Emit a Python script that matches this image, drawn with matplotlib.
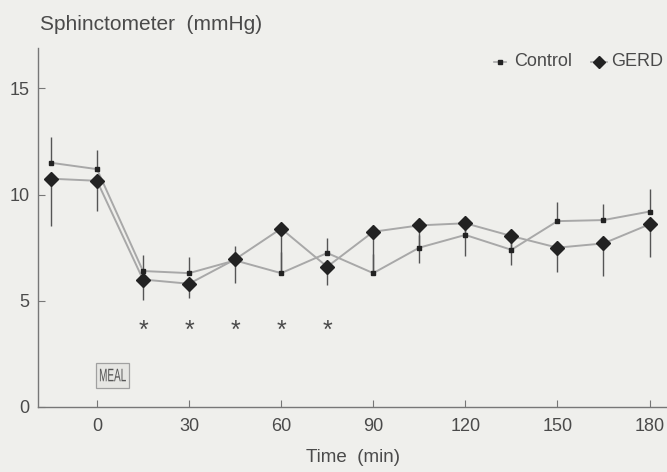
import matplotlib
matplotlib.use("Agg")
import matplotlib.pyplot as plt
import numpy as np
from matplotlib.textpath import TextPath
from matplotlib.patches import PathPatch, Rectangle
from matplotlib.font_manager import FontProperties
from matplotlib.lines import Line2D
import matplotlib.transforms as mtransforms

plt.rcParams['font.family'] = ['Liberation Sans', 'DejaVu Sans']

time = [-15, 0, 15, 30, 45, 60, 75, 90, 105, 120, 135, 150, 165, 180]
control = [11.5, 11.2, 6.4, 6.3, 6.9, 6.3, 7.25, 6.3, 7.5, 8.1, 7.4, 8.75, 8.8, 9.2]
control_err_up = [1.2, 0.9, 0.75, 0.75, 0.7, 1.0, 0.7, 0.9, 0.6, 0.5, 0.6, 0.9, 0.75, 1.05]
gerd = [10.75, 10.65, 6.0, 5.8, 6.95, 8.4, 6.6, 8.25, 8.55, 8.65, 8.05, 7.5, 7.7, 8.6]
gerd_err_down = [2.25, 1.4, 0.95, 0.65, 1.1, 2.1, 0.85, 1.95, 1.75, 1.55, 1.35, 1.15, 1.55, 1.55]
star_times = [15, 30, 45, 60, 75]
star_level = 3.6
meal_time = 5.2
meal_level = 1.5
xticks = [0, 30, 60, 90, 120, 150, 180]
yticks = [0, 5, 10, 15]

DPI = 100
bg = '#efefec'
txt = '#4a4a4a'
fig = plt.figure(figsize=(6.67, 4.72), dpi=DPI, facecolor=bg)
ax = fig.add_axes([0.057, 0.138, 0.943, 0.76], facecolor=bg)

line_col = '#a8a8a8'
mk_col = '#222222'
ax.errorbar(time, control, yerr=[np.zeros(len(control)), control_err_up],
            fmt='none', ecolor='#555555', elinewidth=1.0, capsize=0, zorder=2)
ax.errorbar(time, gerd, yerr=[gerd_err_down, np.zeros(len(gerd))],
            fmt='none', ecolor='#555555', elinewidth=1.0, capsize=0, zorder=2)
ax.plot(time, control, color=line_col, lw=1.4, zorder=3)
ax.plot(time, gerd, color=line_col, lw=1.4, zorder=3)
ax.plot(time, control, ls='none', marker='s', ms=3.4, color=mk_col, zorder=4)
ax.plot(time, gerd, ls='none', marker='D', ms=7.5, color=mk_col, zorder=5)

for t in star_times:
    ax.text(t, star_level, '*', ha='center', va='center', fontsize=18, color=txt)

ax.set_xlim(-19.2, 185.7)
ax.set_ylim(0, 16.9)

# condensed MEAL label in a box
px, py = ax.transData.transform((meal_time, meal_level))
tp = TextPath((0, 0), 'MEAL', size=10, prop=FontProperties(family='Liberation Sans'))
ext = tp.get_extents()
tw, th = 26.0, 12.5
tr = (mtransforms.Affine2D()
      .translate(-(ext.x0 + ext.x1) / 2, -(ext.y0 + ext.y1) / 2)
      .scale(tw / ext.width, th / ext.height)
      .translate(px, py))
ax.add_patch(PathPatch(tr.transform_path(tp), fc='#555555', ec='none',
                       transform=mtransforms.IdentityTransform(), zorder=6,
                       clip_on=False))
ax.add_patch(Rectangle((px - 16.5, py - 12.5), 33, 25, fc='#e6e6e3', ec='#a0a0a0',
                       lw=0.9, transform=mtransforms.IdentityTransform(), zorder=5,
                       clip_on=False))

ax.set_xticks(xticks)
ax.set_yticks(yticks)
for s in ['top', 'right']:
    ax.spines[s].set_visible(False)
for s in ['left', 'bottom']:
    ax.spines[s].set_color('#777777')
    ax.spines[s].set_linewidth(1.0)
ax.tick_params(direction='in', length=5, color='#777777', labelsize=13,
               labelcolor=txt)
ax.tick_params(axis='x', pad=8)
ax.tick_params(axis='y', pad=6)

ax.set_xlabel('Time  (min)', fontsize=13.5, color=txt, labelpad=10)
fig.text(0.06, 0.948, 'Sphinctometer  (mmHg)', fontsize=15, color=txt,
         ha='left', va='center')

# legend
ly = 1 - 62 / 472
fig.add_artist(Line2D([494 / 667, 506 / 667], [ly, ly], color=line_col, lw=1.2,
                      transform=fig.transFigure))
fig.add_artist(Line2D([500 / 667], [ly], ls='none', marker='s', ms=3.4,
                      color=mk_col, transform=fig.transFigure))
fig.text(514 / 667, ly, 'Control', fontsize=13, color=txt, ha='left', va='center')
fig.add_artist(Line2D([591 / 667, 607 / 667], [ly, ly], color=line_col, lw=1.2,
                      transform=fig.transFigure))
fig.add_artist(Line2D([599 / 667], [ly], ls='none', marker='D', ms=6.5,
                      color=mk_col, transform=fig.transFigure))
fig.text(611 / 667, ly, 'GERD', fontsize=13, color=txt, ha='left', va='center')

fig.savefig('out.png', dpi=DPI, facecolor=bg)
